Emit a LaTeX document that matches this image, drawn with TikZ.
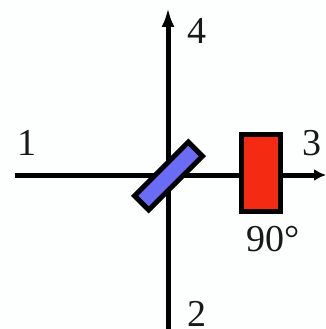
\documentclass[tikz,border=0pt]{standalone}
\usepackage{fontspec}
\setmainfont{Liberation Serif}
\usetikzlibrary{arrows.meta}
\definecolor{bluebox}{HTML}{6A6CF5}
\definecolor{redbox}{HTML}{F52A12}
\definecolor{paper}{HTML}{FDFEFE}
\tikzset{
  beam/.style={line width=5pt,black},
  tipped/.style={-{Latex[length=19pt,width=13pt]}},
  tippedshort/.style={-{Latex[length=12pt,width=12pt]}},
  lab/.style={inner sep=0pt,font=\fontsize{38}{40}\selectfont,text=black!90},
  splitter/.style={draw=black,line width=5pt,fill=bluebox,minimum width=76pt,minimum height=20pt,inner sep=0pt,rotate=45,outer sep=0pt},
  shifter/.style={draw=black,line width=5pt,fill=redbox,minimum width=39pt,minimum height=77pt,inner sep=0pt,outer sep=0pt}
}
\begin{document}
\begin{tikzpicture}[x=1pt,y=-1pt]
\useasboundingbox (0,0) rectangle (326,329);
\fill[paper] (0,0) rectangle (326,329);
\coordinate (w) at (15,175);
\coordinate (e) at (326,175);
\coordinate (n) at (168,8);
\coordinate (s) at (168,329);
\draw[beam] (s) -- (168,30);
\draw[beam,tipped] (168,40) -- (n);
\draw[beam] (w) -- (300,175);
\draw[beam,tippedshort] (290,175) -- (e);
\node[splitter] (bs) at (168.5,176) {};
\node[shifter] (ps) at (261,173) {};
\node[lab] (l1) at (27,143) {1};
\node[lab] (l2) at (197,314) {2};
\node[lab] (l3) at (312,143.5) {3};
\node[lab] (l4) at (197,31) {4};
\node[lab] (l90) at (273,239) {90°};
\end{tikzpicture}
\end{document}
